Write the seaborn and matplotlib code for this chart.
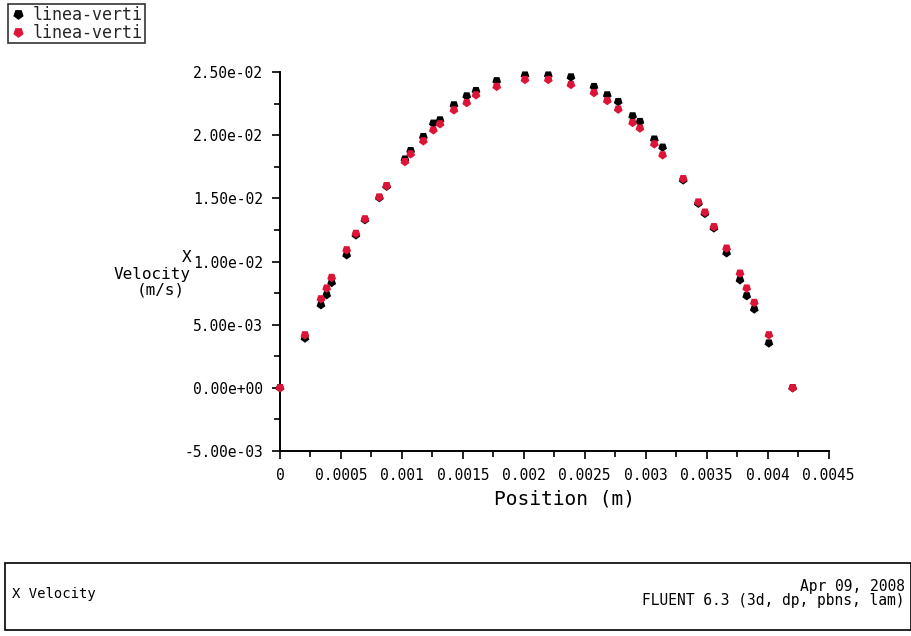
import numpy as np
import pandas as pd
import seaborn as sns
import matplotlib.pyplot as plt
from matplotlib.lines import Line2D
from matplotlib.patches import Rectangle
from matplotlib.ticker import MultipleLocator, FuncFormatter

# datos
position = [0.0, 0.000205, 0.000336, 0.000383, 0.000424, 0.000547, 0.000623, 0.000697,
            0.000815, 0.000875, 0.001025, 0.001072, 0.001176, 0.001258, 0.001313, 0.001427,
            0.001532, 0.001608, 0.001778, 0.00201, 0.002201, 0.002387, 0.002576, 0.002685,
            0.002775, 0.002893, 0.002953, 0.003071, 0.003139, 0.003308, 0.003432, 0.003486,
            0.00356, 0.003664, 0.003774, 0.003829, 0.003891, 0.004011, 0.004206]
vel_linea_1 = [0, 3.93e-3, 6.57e-3, 7.36e-3, 8.33e-3, 1.052e-2, 1.21e-2, 1.33e-2, 1.505e-2,
               1.595e-2, 1.81e-2, 1.877e-2, 1.988e-2, 2.094e-2, 2.12e-2, 2.239e-2, 2.31e-2,
               2.352e-2, 2.43e-2, 2.475e-2, 2.475e-2, 2.46e-2, 2.384e-2, 2.318e-2, 2.265e-2,
               2.152e-2, 2.107e-2, 1.968e-2, 1.904e-2, 1.645e-2, 1.46e-2, 1.38e-2, 1.265e-2,
               1.068e-2, 8.54e-3, 7.28e-3, 6.23e-3, 3.54e-3, 0]
vel_linea_2 = [0, 4.19e-3, 7.04e-3, 7.89e-3, 8.73e-3, 1.092e-2, 1.222e-2, 1.337e-2, 1.51e-2,
               1.6e-2, 1.79e-2, 1.851e-2, 1.954e-2, 2.041e-2, 2.089e-2, 2.199e-2, 2.257e-2,
               2.318e-2, 2.385e-2, 2.44e-2, 2.44e-2, 2.4e-2, 2.336e-2, 2.273e-2, 2.205e-2,
               2.099e-2, 2.055e-2, 1.93e-2, 1.843e-2, 1.655e-2, 1.47e-2, 1.39e-2, 1.275e-2,
               1.105e-2, 9.07e-3, 7.89e-3, 6.75e-3, 4.19e-3, 0]
series_names = ['linea-vertical-1', 'linea-vertical-2']
legend_labels = ['linea-verti', 'linea-verti']
colors = ['#000000', '#dc1438']

df = pd.concat([
    pd.DataFrame({'Position (m)': position, 'X Velocity (m/s)': vel_linea_1, 'serie': series_names[0]}),
    pd.DataFrame({'Position (m)': position, 'X Velocity (m/s)': vel_linea_2, 'serie': series_names[1]}),
], ignore_index=True)

sns.set_theme(style='ticks')
plt.rcParams['font.family'] = ['DejaVu Sans Mono', 'DejaVu Sans']

W, H = 912, 636
fig = plt.figure(figsize=(W / 100, H / 100), dpi=100)
ax = fig.add_axes([280 / W, 1 - 451 / H, 548.5 / W, 379 / H])

marker = (5, 0, 180)
sns.scatterplot(data=df, x='Position (m)', y='X Velocity (m/s)', hue='serie',
                palette=dict(zip(series_names, colors)), marker=marker, s=44,
                linewidth=0, legend=False, ax=ax, clip_on=False, zorder=3)

ax.set_xlim(0, 0.0045)
ax.set_ylim(-0.005, 0.025)
ax.xaxis.set_major_locator(MultipleLocator(0.0005))
ax.xaxis.set_minor_locator(MultipleLocator(0.00025))
ax.yaxis.set_major_locator(MultipleLocator(0.005))
ax.yaxis.set_minor_locator(MultipleLocator(0.0025))
ax.xaxis.set_major_formatter(FuncFormatter(lambda v, p: f"{round(v, 6):g}"))
ax.yaxis.set_major_formatter(FuncFormatter(lambda v, p: f"{v:.2e}"))
ax.tick_params(which='major', length=6, width=1.2, color='black', labelsize=10.5, pad=6, labelcolor='black')
ax.tick_params(which='minor', length=4, width=1.2, color='black')
sns.despine(ax=ax)
for s in ['left', 'bottom']:
    ax.spines[s].set_color('black')
    ax.spines[s].set_linewidth(1.4)
ax.set_xlabel('')
ax.set_ylabel('')

# etiquetas de los ejes
fig.text(565 / W, 1 - 499 / H, 'Position (m)', ha='center', va='center', fontsize=14, color='black')
fig.text(191 / W, 1 - 257 / H, 'X', ha='right', va='center', fontsize=11.5, color='black')
fig.text(191 / W, 1 - 274 / H, 'Velocity', ha='right', va='center', fontsize=11.5, color='black')
fig.text(185 / W, 1 - 290 / H, '(m/s)', ha='right', va='center', fontsize=11.5, color='black')

# leyenda
handles = [Line2D([], [], marker=marker, color=c, linestyle='', markersize=6.5) for c in colors]
leg = fig.legend(handles, legend_labels, loc='upper left', bbox_to_anchor=(8 / W, 1 - 4 / H),
                 fontsize=12, frameon=True, fancybox=False, edgecolor='black',
                 borderpad=0.1, labelspacing=0.0, handletextpad=0.4, handlelength=1.0,
                 borderaxespad=0)
leg.get_frame().set_linewidth(1.2)

# caja inferior
fig.add_artist(Rectangle((5 / W, 1 - 630 / H), 906 / W, 67 / H, transform=fig.transFigure,
                         fill=False, edgecolor='black', linewidth=1.2))
fig.text(12 / W, 1 - 594 / H, 'X Velocity', ha='left', va='center', fontsize=10, color='black')
fig.text(905 / W, 1 - 586 / H, 'Apr 09, 2008', ha='right', va='center', fontsize=10.5, color='black')
fig.text(905 / W, 1 - 601 / H, 'FLUENT 6.3 (3d, dp, pbns, lam)', ha='right', va='center',
         fontsize=10.5, color='black')

fig.savefig('out.png', dpi=100, facecolor='white')
